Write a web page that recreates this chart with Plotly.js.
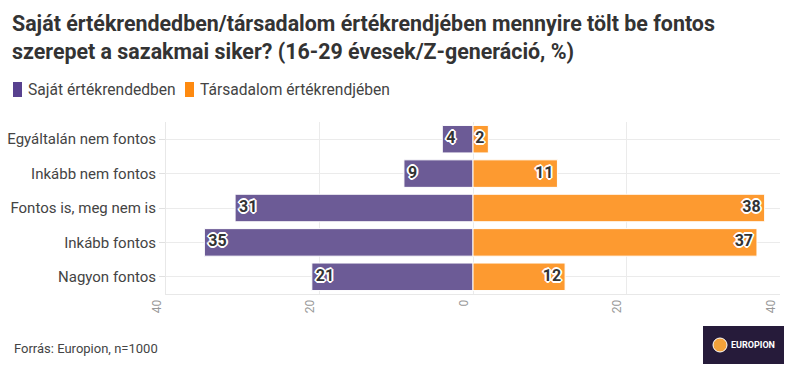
<!DOCTYPE html>
<html>
<head>
<meta charset="utf-8">
<script src="https://cdn.plot.ly/plotly-3.0.1.min.js"></script>
<style>html,body{margin:0;padding:0;background:#fff;}#chart{width:795px;height:378px;}</style>
</head>
<body>
<div id="chart"></div>
<script>
const categories = ["Egyáltalán nem fontos", "Inkább nem fontos", "Fontos is, meg nem is", "Inkább fontos", "Nagyon fontos"];
const sajat = [4, 9, 31, 35, 21];
const tarsadalom = [2, 11, 38, 37, 12];
const seriesNames = ["Saját értékrendedben", "Társadalom értékrendjében"];
const tickVals = [-40, -20, 0, 20, 40];
const tickText = ["40", "20", "0", "20", "40"];

const FONT = "'Liberation Sans Narrow', 'Source Sans Pro', Roboto, sans-serif";
const PURPLE = "#6c5b96";
const ORANGE = "#fd9a30";
const halo = "1px 1px 0 #fff, -1px -1px 0 #fff, 1px -1px 0 #fff, -1px 1px 0 #fff, 2px 0 0 #fff, -2px 0 0 #fff, 0 2px 0 #fff, 0 -2px 0 #fff";
const NB = "\u00a0";

const traces = [
  {type: "bar", orientation: "h", name: seriesNames[0], y: categories, x: sajat.map(v => -v),
   marker: {color: PURPLE, line: {color: "#fff", width: 1}}, hoverinfo: "skip", showlegend: false},
  {type: "bar", orientation: "h", name: seriesNames[1], y: categories, x: tarsadalom,
   marker: {color: ORANGE, line: {color: "#fff", width: 1}}, hoverinfo: "skip", showlegend: false},
  {type: "scatter", mode: "text", y: categories, x: sajat.map(v => -v), text: sajat.map(v => NB + v),
   textposition: "middle right", showlegend: false, hoverinfo: "skip",
   textfont: {family: FONT, size: 16, color: "#333", weight: "bold", shadow: halo}},
  {type: "scatter", mode: "text", y: categories, x: tarsadalom, text: tarsadalom.map(v => v + NB),
   textposition: "middle left", showlegend: false, hoverinfo: "skip",
   textfont: {family: FONT, size: 16, color: "#333", weight: "bold", shadow: halo}}
];

const L = 166, R = 15, T = 122, B = 84, W = 795, H = 378;
const pw = W - L - R, ph = H - T - B;
const px = x => (x - L) / pw;
const py = y => (H - B - y) / ph;

const layout = {
  width: W, height: H,
  margin: {l: L, r: R, t: T, b: B, pad: 0},
  paper_bgcolor: "#fff", plot_bgcolor: "#fff",
  font: {family: FONT, color: "#444"},
  barmode: "relative",
  bargap: 0.2,
  title: {
    text: "<b>Saját értékrendedben/társadalom értékrendjében mennyire tölt be fontos<br>szerepet a sazakmai siker? (16-29 évesek/Z-generáció, %)</b>",
    x: 12 / W, xanchor: "left", xref: "container",
    y: 1 - 31 / H, yanchor: "top", yref: "container",
    font: {family: FONT, size: 21.4, color: "#333"}
  },
  showlegend: false,
  xaxis: {
    range: [-40, 40], tickvals: tickVals, ticktext: tickText, tickangle: -90,
    tickfont: {family: FONT, size: 12, color: "#999"}, ticklabelshift: -9,
    showgrid: true, gridcolor: "#ebebeb", zeroline: false,
    showline: true, linecolor: "#e8e8e8", ticks: "", fixedrange: true
  },
  yaxis: {
    type: "category", categoryorder: "array", categoryarray: categories, autorange: "reversed",
    tickfont: {family: FONT, size: 15, color: "#444"},
    showgrid: true, gridcolor: "#ebebeb", zeroline: false,
    showline: true, linecolor: "#e8e8e8",
    ticks: "outside", ticklen: 6, tickcolor: "#e0e0e0", ticklabelstandoff: 0, fixedrange: true
  },
  shapes: [
    {type: "rect", xref: "paper", yref: "paper", x0: px(13), x1: px(22), y0: py(97), y1: py(82),
     fillcolor: "#58418f", line: {width: 0}, layer: "above"},
    {type: "rect", xref: "paper", yref: "paper", x0: px(185), x1: px(194), y0: py(97), y1: py(82),
     fillcolor: "#fe8a10", line: {width: 0}, layer: "above"},
    {type: "rect", xref: "paper", yref: "paper", x0: px(703), x1: px(784), y0: py(364), y1: py(326),
     fillcolor: "#261b3a", line: {width: 0}, layer: "above"},
    {type: "circle", xref: "paper", yref: "paper", x0: px(713), x1: px(727), y0: py(352), y1: py(338),
     fillcolor: "#f2a23a", line: {color: "#fff", width: 1}, layer: "above"}
  ],
  annotations: [
    {text: seriesNames[0], xref: "paper", yref: "paper", x: px(26), y: py(90),
     xanchor: "left", yanchor: "middle", showarrow: false, font: {family: FONT, size: 15.6, color: "#444"}},
    {text: seriesNames[1], xref: "paper", yref: "paper", x: px(198), y: py(90),
     xanchor: "left", yanchor: "middle", showarrow: false, font: {family: FONT, size: 15.6, color: "#444"}},
    {text: "Forrás: Europion, n=1000", xref: "paper", yref: "paper", x: px(12), y: py(348),
     xanchor: "left", yanchor: "middle", showarrow: false, font: {family: FONT, size: 13, color: "#444"}},
    {text: "<b>EUROPION</b>", xref: "paper", yref: "paper", x: px(729), y: py(345),
     xanchor: "left", yanchor: "middle", showarrow: false, font: {family: FONT, size: 9, color: "#fff"}}
  ]
};

Plotly.newPlot("chart", traces, layout, {displayModeBar: false, staticPlot: true});
</script>
</body>
</html>
